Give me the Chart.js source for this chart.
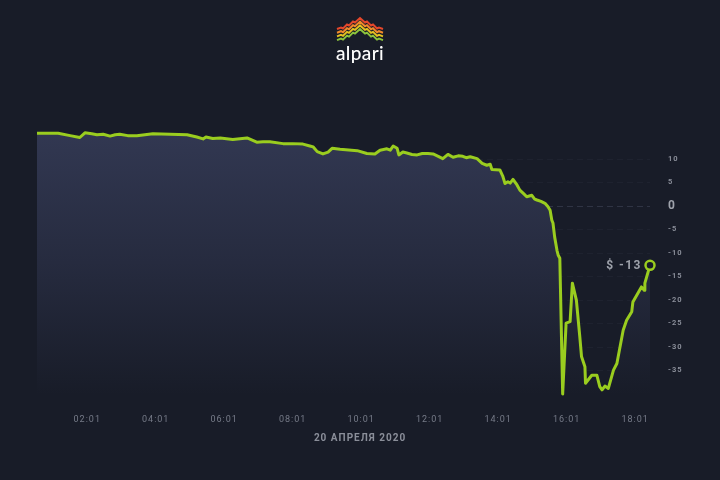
<!DOCTYPE html>
<html>
<head>
<meta charset="utf-8">
<script src="https://cdn.jsdelivr.net/npm/chart.js@4/dist/chart.umd.min.js"></script>
<style>
  html, body { margin: 0; padding: 0; background: #181c28; }
  #wrap { position: relative; width: 720px; height: 480px; overflow: hidden; }
  #logo { position: absolute; left: 0; top: 0; width: 720px; height: 70px; }
  canvas { position: absolute; left: 0; top: 0; }
</style>
</head>
<body>
<div id="wrap">
  <canvas id="pnl" width="720" height="480"></canvas>
  <svg id="logo" width="720" height="70">
    <g transform="translate(337,18)" fill="none" stroke-width="2" stroke-linejoin="miter">
      <polyline stroke="#e4472b" points="0,11 4,9.5 6,10.5 10,6.5 12,7.5 16,3.5 18,4.5 23,0 28,4.5 30,3.5 34,7.5 36,6.5 40,10.5 42,9.5 46,11"/>
      <polyline stroke="#f0892a" transform="translate(0,3.7)" points="0,11 4,9.5 6,10.5 10,6.5 12,7.5 16,3.5 18,4.5 23,0 28,4.5 30,3.5 34,7.5 36,6.5 40,10.5 42,9.5 46,11"/>
      <polyline stroke="#e6c21f" transform="translate(0,7.4)" points="0,11 4,9.5 6,10.5 10,6.5 12,7.5 16,3.5 18,4.5 23,0 28,4.5 30,3.5 34,7.5 36,6.5 40,10.5 42,9.5 46,11"/>
      <polyline stroke="#8cc43c" transform="translate(0,11.1)" points="0,11 4,9.5 6,10.5 10,6.5 12,7.5 16,3.5 18,4.5 23,0 28,4.5 30,3.5 34,7.5 36,6.5 40,10.5 42,9.5 46,11"/>
    </g>
    <text x="360" y="60" text-anchor="middle" fill="#ffffff" font-family="Lato, 'Open Sans', sans-serif" font-size="19" font-weight="500" letter-spacing="0.4">alpari</text>
  </svg>
</div>
<script>
// время (20 апреля 2020) и результат в $
const times = [
  '00:33', '01:10', '01:31', '01:48', '01:57', '02:09', '02:18', '02:29', '02:41', '02:50',
  '02:58', '03:12', '03:28', '03:42', '03:56', '04:26', '04:56', '05:13', '05:24', '05:29',
  '05:41', '05:54', '06:16', '06:41', '06:58', '07:09', '07:21', '07:44', '08:01', '08:19',
  '08:31', '08:37', '08:44', '08:54', '09:03', '09:10', '09:24', '09:54', '10:11', '10:25',
  '10:34', '10:46', '10:52', '10:57', '11:04', '11:07', '11:14', '11:21', '11:30', '11:39',
  '11:48', '11:58', '12:07', '12:16', '12:24', '12:33', '12:42', '12:51', '12:59', '13:05',
  '13:12', '13:24', '13:33', '13:41', '13:47', '13:50', '14:04', '14:09', '14:13', '14:18',
  '14:22', '14:27', '14:34', '14:39', '14:46', '14:51', '15:00', '15:05', '15:09', '15:16',
  '15:23', '15:28', '15:32', '15:35', '15:37', '15:40', '15:44', '15:46', '15:49', '15:54',
  '16:00', '16:07', '16:11', '16:18', '16:24', '16:27', '16:33', '16:34', '16:45', '16:54',
  '16:59', '17:03', '17:08', '17:14', '17:23', '17:29', '17:40', '17:46', '17:55', '17:57',
  '18:12', '18:17', '18:18', '18:27'
];
const pnl = [
  15.5, 15.5, 15.0, 14.6, 15.6, 15.4, 15.2, 15.3, 14.9, 15.2,
  15.3, 15.0, 15.0, 15.2, 15.4, 15.3, 15.2, 14.7, 14.3, 14.7,
  14.4, 14.5, 14.2, 14.5, 13.6, 13.7, 13.7, 13.3, 13.3, 13.2,
  12.8, 12.6, 11.6, 11.1, 11.5, 12.3, 12.1, 11.8, 11.2, 11.1,
  11.9, 12.2, 11.9, 12.8, 12.3, 10.9, 11.5, 11.3, 11.0, 10.9,
  11.2, 11.2, 11.1, 10.6, 10.1, 11.0, 10.4, 10.7, 10.6, 10.3,
  10.5, 10.1, 9.1, 8.7, 8.9, 7.8, 7.7, 6.4, 4.8, 5.2,
  4.9, 5.7, 4.5, 3.4, 2.6, 2.0, 2.3, 1.5, 1.3, 1.0,
  0.6, -0.1, -0.9, -3.0, -3.6, -6.6, -9.4, -10.4, -11.1, -40.0,
  -24.9, -24.6, -16.4, -20.0, -27.8, -32.0, -34.2, -37.7, -36.0, -36.0,
  -38.4, -39.1, -38.3, -38.8, -34.9, -33.5, -26.4, -24.3, -22.5, -20.4,
  -17.2, -17.9, -16.4, -12.6
];
const xTickLabels = ['02:01', '04:01', '06:01', '08:01', '10:01', '12:01', '14:01', '16:01', '18:01'];
const yTicks = [-35, -30, -25, -20, -15, -10, -5, 0, 5, 10];
const dateTitle = '20 АПРЕЛЯ 2020';

function toMin(t) {
  const p = t.split(':');
  return parseInt(p[0]) * 60 + parseInt(p[1]);
}

const points = times.map(function (t, i) { return { x: toMin(t), y: pnl[i] }; });
const xTickValues = xTickLabels.map(toMin);
const last = points.length - 1;

const bg = '#181c28';
const green = '#9acd1f';

// разрядка букв на всём холсте
const spacingPlugin = {
  id: 'spacing',
  beforeLayout: function (chart) { chart.ctx.letterSpacing = '1px'; },
  beforeDraw: function (chart) { chart.ctx.letterSpacing = '1px'; }
};

// подпись последнего значения и дата под осью
const labels = {
  id: 'labels',
  afterDatasetsDraw: function (chart) {
    const el = chart.getDatasetMeta(0).data[last];
    const ctx = chart.ctx;
    ctx.save();
    ctx.letterSpacing = '1.5px';
    ctx.font = 'bold 12px Roboto, sans-serif';
    ctx.fillStyle = '#9ea2ab';
    ctx.textAlign = 'right';
    ctx.textBaseline = 'middle';
    ctx.fillText('$ ' + Math.round(pnl[last]), el.x - 8, el.y + 1);

    ctx.letterSpacing = '1px';
    ctx.font = 'bold 10px Roboto, sans-serif';
    ctx.fillStyle = '#8a8e99';
    ctx.textAlign = 'center';
    ctx.fillText(dateTitle, chart.width / 2, chart.scales.x.bottom - 6);
    ctx.restore();
  }
};

new Chart(document.getElementById('pnl'), {
  type: 'line',
  data: {
    datasets: [{
      data: points,
      clip: false,
      borderColor: green,
      borderWidth: 3,
      borderJoinStyle: 'round',
      tension: 0,
      fill: 'start',
      backgroundColor: function (context) {
        const area = context.chart.chartArea;
        if (!area) return 'rgba(48,54,78,1)';
        const g = context.chart.ctx.createLinearGradient(0, area.top, 0, area.bottom);
        g.addColorStop(0, 'rgba(50,56,82,1)');
        g.addColorStop(0.5, 'rgba(38,43,63,1)');
        g.addColorStop(1, 'rgba(24,28,40,1)');
        return g;
      },
      pointRadius: function (ctx) { return ctx.dataIndex === last ? 4.5 : 0; },
      pointBorderWidth: 2.5,
      pointBorderColor: green,
      pointBackgroundColor: bg
    }]
  },
  options: {
    responsive: false,
    animation: false,
    events: [],
    layout: { padding: { left: 37, top: 130, right: 0, bottom: 36 } },
    plugins: { legend: { display: false }, tooltip: { enabled: false } },
    scales: {
      x: {
        type: 'linear',
        min: 33,
        max: 1107,
        afterFit: function (scale) { scale.height = 49; },
        afterBuildTicks: function (scale) {
          scale.ticks = xTickValues.map(function (v) { return { value: v }; });
        },
        ticks: {
          padding: 19,
          maxRotation: 0,
          autoSkip: false,
          color: '#767b88',
          font: { family: 'Roboto', size: 9 },
          callback: function (v) { return xTickLabels[xTickValues.indexOf(v)]; }
        },
        grid: { display: false, drawTicks: false },
        border: { display: false }
      },
      y: {
        position: 'right',
        min: -40.2,
        max: 16.2,
        afterFit: function (scale) { scale.width = 70; },
        afterBuildTicks: function (scale) {
          scale.ticks = yTicks.map(function (v) { return { value: v }; });
        },
        ticks: {
          padding: 18,
          color: function (ctx) { return ctx.tick && ctx.tick.value === 0 ? '#9ea2ab' : '#8a8e99'; },
          font: function (ctx) {
            return ctx.tick && ctx.tick.value === 0
              ? { family: 'Roboto', size: 12, weight: 'bold' }
              : { family: 'Roboto', size: 7.5, weight: 'bold' };
          }
        },
        grid: {
          drawTicks: false,
          color: function (ctx) {
            return ctx.tick && ctx.tick.value === 0 ? 'rgba(130,140,170,0.22)' : 'rgba(130,140,170,0.06)';
          }
        },
        border: { display: false, dash: [6, 4] }
      }
    }
  },
  plugins: [spacingPlugin, labels]
});
</script>
</body>
</html>
